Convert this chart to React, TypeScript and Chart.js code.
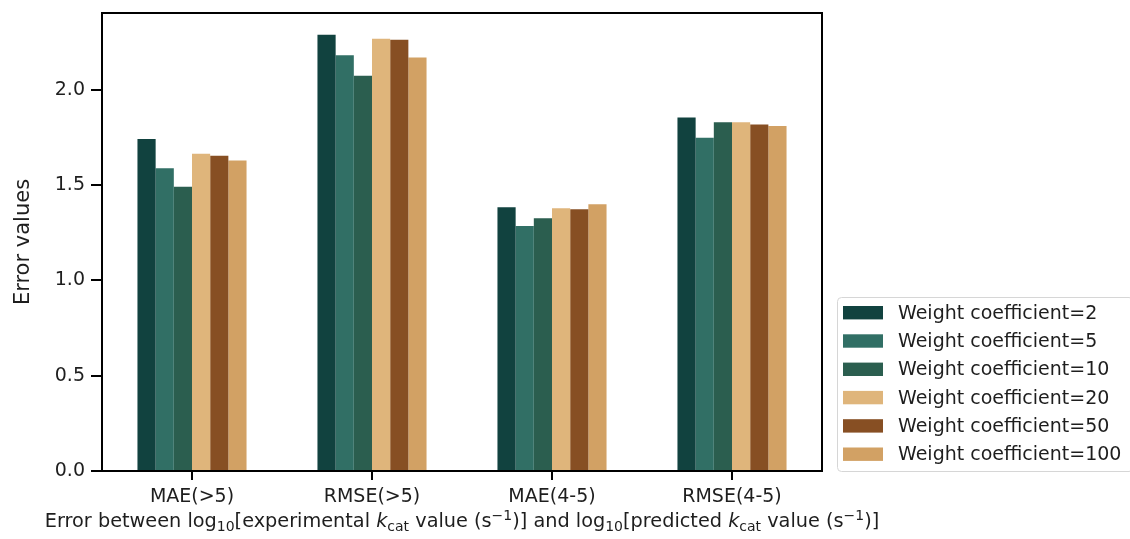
import React, { useEffect, useRef } from "react";
import { Chart, registerables } from "chart.js";

Chart.register(...registerables);

const categories = ["MAE(>5)", "RMSE(>5)", "MAE(4-5)", "RMSE(4-5)"];
const seriesLabels = [
  "Weight coefficient=2",
  "Weight coefficient=5",
  "Weight coefficient=10",
  "Weight coefficient=20",
  "Weight coefficient=50",
  "Weight coefficient=100",
];
const wc2 = [1.742, 2.289, 1.384, 1.855];
const wc5 = [1.589, 2.182, 1.286, 1.749];
const wc10 = [1.492, 2.074, 1.326, 1.83];
const wc20 = [1.665, 2.268, 1.379, 1.83];
const wc50 = [1.655, 2.263, 1.373, 1.818];
const wc100 = [1.629, 2.17, 1.4, 1.811];
const seriesColors = ["#11423F", "#316F65", "#2B5E4F", "#DFB57B", "#874F23", "#D2A164"];
const yTicks = [0, 0.5, 1.0, 1.5, 2.0];
const yMax = 2.4035;
const yTitle = "Error values";

const FONT = "'DejaVu Sans', sans-serif";
const TEXT = "#1e1e1e";

const framePlugin = {
  id: "frame",
  afterDraw(chart: any) {
    const { ctx, chartArea: a } = chart;
    ctx.save();
    ctx.strokeStyle = "#000";
    ctx.lineWidth = 2;
    ctx.strokeRect(a.left, a.top, a.right - a.left, a.bottom - a.top);
    ctx.restore();
  },
};

const legendPlugin = {
  id: "customLegend",
  afterDraw(chart: any) {
    const { ctx } = chart;
    ctx.save();
    const x0 = 837.5, y0 = 297.5, x1 = 1133, y1 = 471.5, r = 4;
    ctx.beginPath();
    ctx.moveTo(x0 + r, y0);
    ctx.lineTo(x1 - r, y0);
    ctx.arcTo(x1, y0, x1, y0 + r, r);
    ctx.lineTo(x1, y1 - r);
    ctx.arcTo(x1, y1, x1 - r, y1, r);
    ctx.lineTo(x0 + r, y1);
    ctx.arcTo(x0, y1, x0, y1 - r, r);
    ctx.lineTo(x0, y0 + r);
    ctx.arcTo(x0, y0, x0 + r, y0, r);
    ctx.closePath();
    ctx.fillStyle = "rgba(255,255,255,0.9)";
    ctx.fill();
    ctx.strokeStyle = "#d6d6d6";
    ctx.lineWidth = 1;
    ctx.stroke();
    ctx.font = `19px ${FONT}`;
    ctx.textBaseline = "middle";
    ctx.textAlign = "left";
    chart.data.datasets.forEach((ds: any, i: number) => {
      const cy = 312.7 + i * 28.3;
      ctx.fillStyle = ds.backgroundColor;
      ctx.fillRect(843, cy - 6.7, 40, 13.4);
      ctx.fillStyle = TEXT;
      ctx.fillText(ds.label, 898, cy + 1);
    });
    ctx.restore();
  },
};

const xTitleSegments: { t: string; k: "n" | "sub" | "sup" | "it" }[] = [
  { t: "Error between log", k: "n" },
  { t: "10", k: "sub" },
  { t: "[experimental ", k: "n" },
  { t: "k", k: "it" },
  { t: "cat", k: "sub" },
  { t: " value (s", k: "n" },
  { t: "\u22121", k: "sup" },
  { t: ")] and log", k: "n" },
  { t: "10", k: "sub" },
  { t: "[predicted ", k: "n" },
  { t: "k", k: "it" },
  { t: "cat", k: "sub" },
  { t: " value (s", k: "n" },
  { t: "\u22121", k: "sup" },
  { t: ")]", k: "n" },
];

const xTitlePlugin = {
  id: "xTitle",
  afterDraw(chart: any) {
    const { ctx, chartArea: a } = chart;
    const size = 19.3;
    const fontFor = (k: string) =>
      k === "sub" || k === "sup"
        ? `${Math.round(size * 0.7)}px ${FONT}`
        : k === "it"
        ? `oblique ${size}px ${FONT}`
        : `${size}px ${FONT}`;
    ctx.save();
    ctx.textBaseline = "alphabetic";
    ctx.textAlign = "left";
    let total = 0;
    for (const s of xTitleSegments) {
      ctx.font = fontFor(s.k);
      total += ctx.measureText(s.t).width;
    }
    let x = (a.left + a.right) / 2 - total / 2;
    const base = 527;
    ctx.fillStyle = TEXT;
    for (const s of xTitleSegments) {
      ctx.font = fontFor(s.k);
      const dy = s.k === "sub" ? 4 : s.k === "sup" ? -7 : 0;
      ctx.fillText(s.t, x, base + dy);
      x += ctx.measureText(s.t).width;
    }
    ctx.restore();
  },
};

export default function App() {
  const ref = useRef<HTMLCanvasElement | null>(null);
  useEffect(() => {
    if (!ref.current) return;
    const values = [wc2, wc5, wc10, wc20, wc50, wc100];
    const chart = new Chart(ref.current, {
      type: "bar",
      data: {
        labels: categories,
        datasets: values.map((v, i) => ({
          label: seriesLabels[i],
          data: v,
          backgroundColor: seriesColors[i],
          borderWidth: 0,
          categoryPercentage: 0.606,
          barPercentage: 1.0,
        })),
      },
      options: {
        animation: false,
        responsive: false,
        devicePixelRatio: 1,
        layout: { padding: { left: 0, top: 13, right: 308, bottom: 0 } },
        plugins: {
          legend: { display: false },
          tooltip: { enabled: false },
        },
        scales: {
          x: {
            type: "category",
            offset: true,
            border: { display: false },
            grid: {
              display: true,
              offset: false,
              drawOnChartArea: false,
              drawTicks: true,
              tickLength: 9,
              color: "#000",
              lineWidth: 2,
            },
            ticks: {
              color: TEXT,
              font: { family: FONT, size: 19 },
              padding: 6,
              maxRotation: 0,
            },
            afterFit(scale: any) {
              scale.height = 68;
              scale.paddingLeft = 0;
              scale.paddingRight = 0;
            },
          },
          y: {
            type: "linear",
            min: 0,
            max: yMax,
            border: { display: false },
            grid: {
              display: true,
              drawOnChartArea: false,
              drawTicks: true,
              tickLength: 11,
              color: "#000",
              lineWidth: 2,
            },
            ticks: {
              color: TEXT,
              font: { family: FONT, size: 19 },
              padding: 6,
              callback: (v: any) => Number(v).toFixed(1),
            },
            afterBuildTicks(scale: any) {
              scale.ticks = yTicks.map((v) => ({ value: v }));
            },
            title: {
              display: true,
              text: yTitle,
              color: TEXT,
              font: { family: FONT, size: 21 },
              padding: { top: 11, bottom: 0 },
            },
            afterFit(scale: any) {
              scale.width = 102;
              scale.paddingTop = 0;
              scale.paddingBottom = 0;
            },
          },
        },
      },
      plugins: [framePlugin, legendPlugin, xTitlePlugin],
    } as any);
    return () => chart.destroy();
  }, []);
  return (
    <div style={{ position: "fixed", left: 0, top: 0, width: 1130, height: 539, background: "#fff" }}>
      <canvas ref={ref} width={1130} height={539} style={{ width: 1130, height: 539, display: "block" }} />
    </div>
  );
}
